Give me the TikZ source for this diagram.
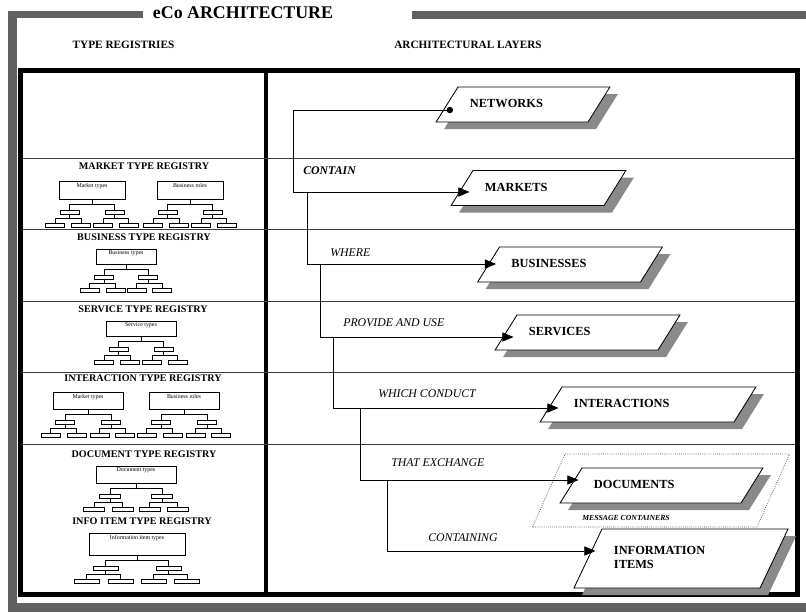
\documentclass[tikz,border=0pt]{standalone}
\usepackage{fontspec}
\setmainfont{Liberation Serif}
\usetikzlibrary{arrows.meta, positioning, shapes.geometric, shadows}

\definecolor{framegray}{RGB}{98,96,99}
\definecolor{shadegray}{RGB}{138,138,138}
\definecolor{rulegray}{RGB}{60,60,60}

\tikzset{
	title/.style={font=\fontsize{12.7}{14}\selectfont\bfseries, inner sep=0pt},
	header/.style={font=\fontsize{8}{9}\selectfont\bfseries, inner sep=0pt},
	regtitle/.style={font=\fontsize{7.2}{8}\selectfont\bfseries, inner sep=0pt},
	verb/.style={font=\fontsize{8.4}{10}\selectfont\itshape, inner sep=0pt, anchor=west},
	regbox/.style={draw, line width=0.5pt, inner sep=0pt},
	leafbox/.style={draw, line width=0.5pt, inner sep=0pt, minimum height=0.11cm},
	boxtext/.style={font=\fontsize{4.2}{5}\selectfont, inner sep=1.4pt, anchor=north},
	twig/.style={line width=0.5pt},
	layer/.style={trapezium, trapezium left angle=58, trapezium right angle=122,
		draw, line width=0.6pt, fill=white, align=left,
		drop shadow={shadow xshift=0.2cm, shadow yshift=-0.175cm, fill=shadegray, opacity=1},
		font=\fontsize{8.8}{10}\selectfont\bfseries,
		inner xsep=0.3cm, inner ysep=0.3125cm, text height=0.2cm, text depth=0.05cm},
	msgbox/.style={trapezium, trapezium left angle=66, trapezium right angle=114,
		draw=rulegray, densely dotted, line width=0.5pt, inner sep=0pt},
	flow/.style={->, line width=0.6pt, shorten >=-0.2cm},
	pics/typetree/.style n args={5}{code={
		\node[regbox, minimum width=#1*0.025cm, minimum height=#2*0.025cm,
			label={[boxtext]north:#5}] (-top) at (0,#2/2) {};
		\node[leafbox, minimum width=#4*0.025cm] (-l) at (-#3,#2+13.5) {};
		\node[leafbox, minimum width=#4*0.025cm] (-r) at (#3,#2+13.5) {};
		\node[leafbox, minimum width=#4*0.025cm] (-l1) at (-#3-0.75*#4,#2+26.5) {};
		\node[leafbox, minimum width=#4*0.025cm] (-l2) at (-#3+0.6*#4,#2+26.5) {};
		\node[leafbox, minimum width=#4*0.025cm] (-r1) at (#3-0.6*#4,#2+26.5) {};
		\node[leafbox, minimum width=#4*0.025cm] (-r2) at (#3+0.75*#4,#2+26.5) {};
		\draw[twig] (-top.south) -- (0,#2+5.5);
		\draw[twig] (-l.north) |- (0,#2+5.5) -| (-r.north);
		\draw[twig] (-l.south) -- (-#3,#2+19.5);
		\draw[twig] (-l1.north) |- (-#3,#2+19.5) -| (-l2.north);
		\draw[twig] (-r.south) -- (#3,#2+19.5);
		\draw[twig] (-r1.north) |- (#3,#2+19.5) -| (-r2.north);
	}}
}

\begin{document}
\begin{tikzpicture}[x=0.025cm, y=-0.025cm, >={Triangle[length=8pt,width=6.5pt]}]
	\useasboundingbox (0,0) rectangle (806,612);
	
	% Frame
	\fill[framegray] (8,11) rectangle (17,612);
	\fill[framegray] (8,11) rectangle (143,18);
	\fill[framegray] (412,11) rectangle (806,19);
	\fill[framegray] (8,603) rectangle (806,612);
	\draw[line width=0.125cm] (20.5,70.5) rectangle (797.5,594.5);
	\draw[line width=0.1cm] (266,70.5) -- (266,594.5);
	\foreach \y in {158,229,301,372,444}
		\draw[rulegray, line width=0.5pt] (23,\y) -- (795,\y);
	
	\node[title] (ttl) at (243,13) {eCo ARCHITECTURE};
	\node[header] (regs) at (123.5,45) {TYPE REGISTRIES};
	\node[header] (lays) at (468,45) {ARCHITECTURAL LAYERS};
	
	% Registries
	\node[regtitle] (mktreg) at (144,166) {MARKET TYPE REGISTRY};
	\pic (mkt1) at (92,181) {typetree={66}{18}{22.5}{19}{Market types}};
	\pic (mkt2) at (190,181) {typetree={66}{18}{22.5}{19}{Business roles}};
	\node[regtitle] (busreg) at (144,237) {BUSINESS TYPE REGISTRY};
	\pic (bus1) at (126,249) {typetree={60}{15}{22}{19}{Business types}};
	\node[regtitle] (srvreg) at (143,309) {SERVICE TYPE REGISTRY};
	\pic (srv1) at (141,321) {typetree={70}{15}{22.5}{19}{Service types}};
	\node[regtitle] (intreg) at (143,378) {INTERACTION TYPE REGISTRY};
	\pic (int1) at (88,392) {typetree={70}{17}{23}{19}{Market types}};
	\pic (int2) at (184,392) {typetree={70}{17}{23}{19}{Business roles}};
	\node[regtitle] (docreg) at (144,454) {DOCUMENT TYPE REGISTRY};
	\pic (doc1) at (136,466) {typetree={80}{17}{26}{21}{Document types}};
	\node[regtitle] (inforeg) at (142,521) {INFO ITEM TYPE REGISTRY};
	\pic (info1) at (137,533) {typetree={96}{22}{31.5}{25}{Information item types}};
	
	% Layers
	\node[msgbox, text width=4.8cm, text height=1.825cm, text depth=0cm] (msg) at (661,490.5) {};
	\node[font=\fontsize{5.5}{6}\selectfont\bfseries\itshape, inner sep=0pt] (msglab) at (626,518) {MESSAGE CONTAINERS};
	\node[layer, text width=2.65cm] (net) at (523,104.5) {NETWORKS};
	\node[layer, text width=2.675cm] (mkt) at (538.5,188) {MARKETS};
	\node[layer, text width=2.925cm] (bus) at (570,264.5) {BUSINESSES};
	\node[layer, text width=2.925cm] (srv) at (587.5,332.5) {SERVICES};
	\node[layer, text width=3.7cm] (int) at (648,404.5) {INTERACTIONS};
	\node[layer, text width=3.375cm] (doc) at (661.5,485.5) {DOCUMENTS};
	\node[layer, trapezium left angle=64.6, trapezium right angle=115.4, text width=3.35cm,
		text depth=0.4cm, inner ysep=0.4375cm] (info) at (681,558.5) {INFORMATION\\ITEMS};
	
	% Links
	\coordinate (n0) at (453,110);
	\coordinate (k1) at (293,192);
	\coordinate (k2) at (307,264);
	\coordinate (k3) at (320,337);
	\coordinate (k4) at (333,408);
	\coordinate (k5) at (360,480);
	\coordinate (k6) at (387,551);
	\draw[flow, {Circle[length=4.5pt]}->] (n0) -| (k1) -- (k1 -| mkt.west);
	\draw[flow] (k2 |- k1) -- (k2) -- (k2 -| bus.west);
	\draw[flow] (k3 |- k2) -- (k3) -- (k3 -| srv.west);
	\draw[flow] (k4 |- k3) -- (k4) -- (k4 -| int.west);
	\draw[flow] (k5 |- k4) -- (k5) -- (k5 -| doc.west);
	\draw[flow] (k6 |- k5) -- (k6) -- (k6 -| info.west);
	
	\node[verb, font=\fontsize{8.4}{10}\selectfont\bfseries\itshape] (v1) at (303,171) {CONTAIN};
	\node[verb] (v2) at (330,253) {WHERE};
	\node[verb] (v3) at (343,323) {PROVIDE AND USE};
	\node[verb] (v4) at (378,394) {WHICH CONDUCT};
	\node[verb] (v5) at (391,463) {THAT EXCHANGE};
	\node[verb] (v6) at (428,538) {CONTAINING};
	
\end{tikzpicture}
\end{document}
